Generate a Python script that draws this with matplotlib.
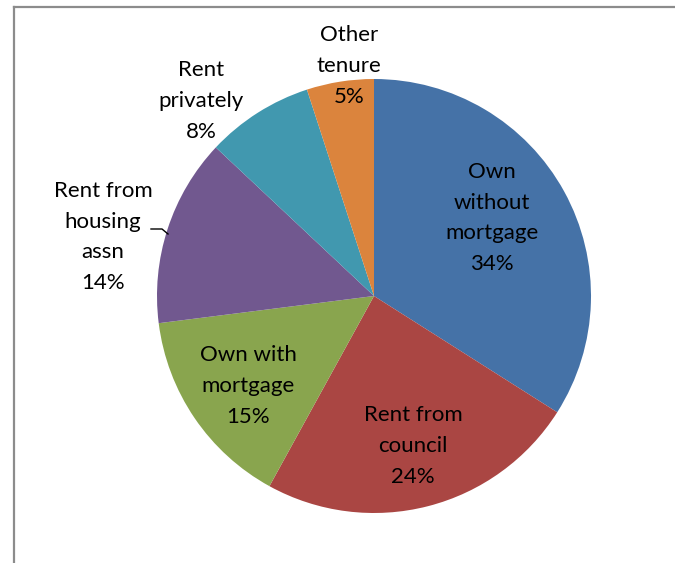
import matplotlib
matplotlib.use("Agg")
import matplotlib.pyplot as plt
from matplotlib.lines import Line2D

categories = ["Own\nwithout\nmortgage", "Rent from\ncouncil", "Own with\nmortgage",
              "Rent from\nhousing\nassn", "Rent\nprivately", "Other\ntenure"]
shares = [34, 24, 15, 14, 8, 5]
colors = ["#4572A7", "#AA4643", "#89A54E", "#71588F", "#4198AF", "#DB843D"]

# label centres in pixel coordinates (x, y from top)
label_pos = [(492, 218), (413, 446), (248, 386), (103, 237), (201, 101), (349, 66)]

W, H = 675, 563
fig = plt.figure(figsize=(W / 100, H / 100), dpi=100)
ax = fig.add_axes([0, 0, 1, 1])

cx, cy, r = 374, H - 296, 217
ax.pie(shares, colors=colors, startangle=90, counterclock=False,
       center=(cx, cy), radius=r, frame=True,
       wedgeprops=dict(linewidth=0))
ax.set_xlim(0, W)
ax.set_ylim(0, H)
ax.set_aspect("equal")
ax.axis("off")

for name, val, (lx, ly) in zip(categories, shares, label_pos):
    ax.text(lx, H - ly, f"{name}\n{val}%", ha="center", va="center",
            fontsize=16, family="Lato", linespacing=1.66, color="black")

# leader line for the housing association label
ax.add_line(Line2D([151, 162, 168], [H - 229, H - 229, H - 234],
                   color="black", linewidth=1))

# chart frame
fig.add_artist(Line2D([14 / W, 14 / W], [0, 1 - 7 / H], transform=fig.transFigure,
                      color="#8c8c8c", linewidth=1.6))
fig.add_artist(Line2D([14 / W, 1], [1 - 7 / H, 1 - 7 / H], transform=fig.transFigure,
                      color="#8c8c8c", linewidth=1.6))

fig.savefig("out.png", dpi=100)
